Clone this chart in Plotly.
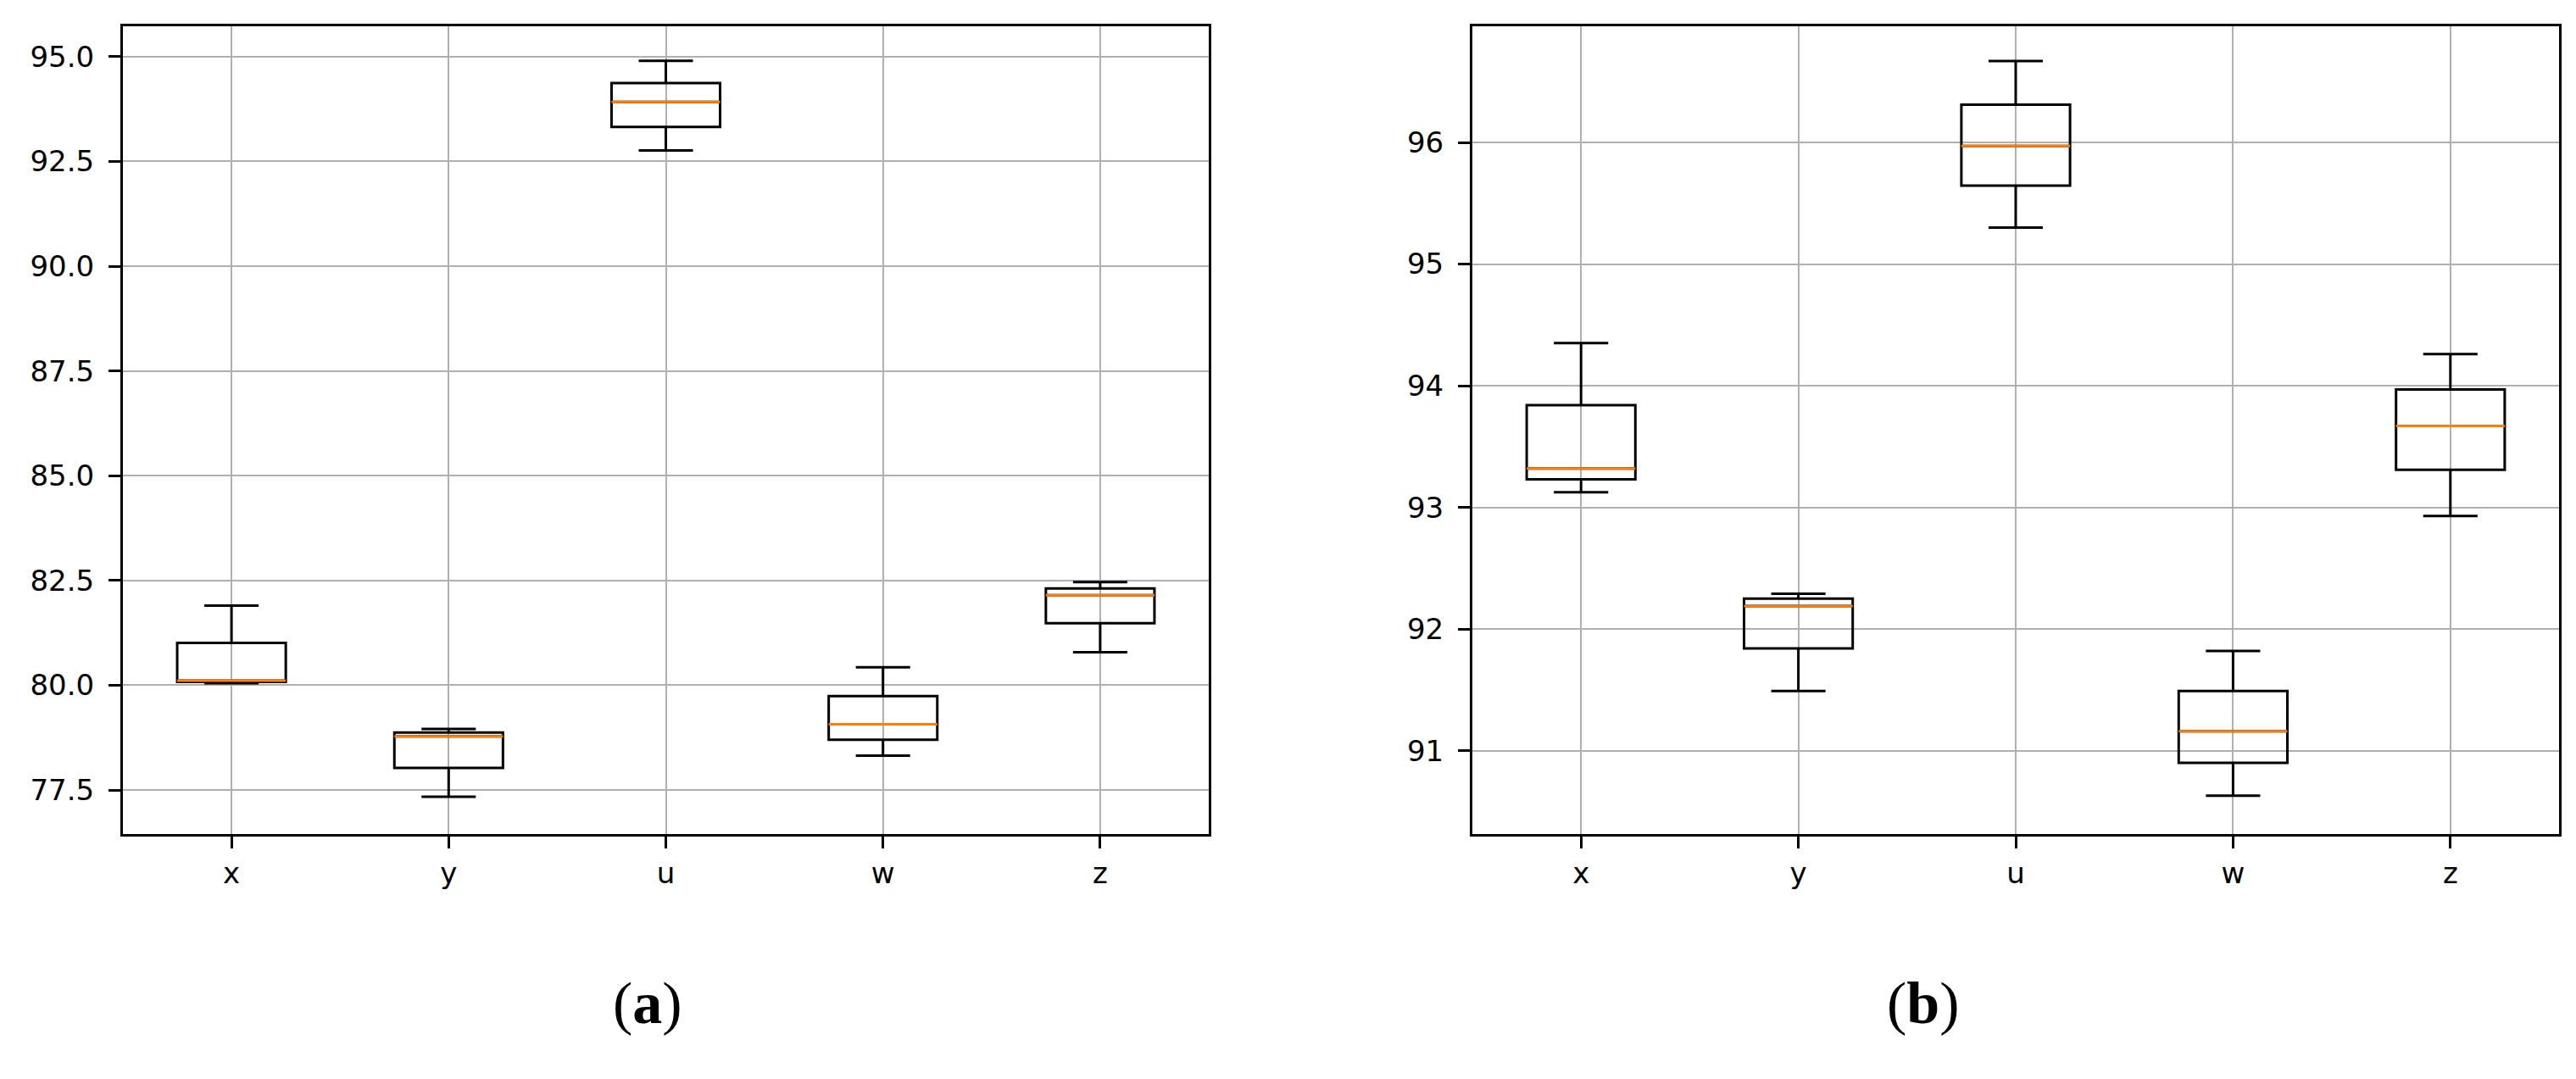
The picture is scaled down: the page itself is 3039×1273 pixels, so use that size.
import plotly.graph_objects as go

W, H = 3039, 1273

categories = ["x", "y", "u", "w", "z"]
positions = [1, 2, 3, 4, 5]

# panel (a): box-plot summary values
lo_a = [80.05, 77.34, 92.76, 78.32, 80.79]
q1_a = [80.08, 78.03, 93.32, 78.70, 81.48]
med_a = [80.11, 78.78, 93.92, 79.07, 82.15]
q3_a = [81.01, 78.87, 94.37, 79.74, 82.31]
hi_a = [81.90, 78.96, 94.90, 80.43, 82.46]

# panel (b)
lo_b = [93.125, 91.49, 95.30, 90.63, 92.93]
q1_b = [93.23, 91.84, 95.645, 90.90, 93.31]
med_b = [93.32, 92.19, 95.97, 91.16, 93.67]
q3_b = [93.84, 92.25, 96.31, 91.49, 93.97]
hi_b = [94.35, 92.29, 96.67, 91.82, 94.26]

yticks_a = [77.5, 80.0, 82.5, 85.0, 87.5, 90.0, 92.5, 95.0]
yticks_b = [91, 92, 93, 94, 95, 96]

BLACK = "#000000"
ORANGE = "#ff7f0e"
GRID = "#b0b0b0"


def add_boxes(fig, lo, q1, med, q3, hi, xa, ya):
    # black box + whiskers, no fill so the grid shows through
    fig.add_trace(go.Box(
        x=positions, q1=q1, median=med, q3=q3, lowerfence=lo, upperfence=hi,
        width=0.5, whiskerwidth=0.5, line=dict(color=BLACK, width=3),
        fillcolor="rgba(0,0,0,0)", boxpoints=False, hoverinfo="skip",
        xaxis=xa, yaxis=ya, showlegend=False,
    ))
    # orange median drawn as a flat box on top
    fig.add_trace(go.Box(
        x=positions, q1=med, median=med, q3=med, lowerfence=med, upperfence=med,
        width=0.5, whiskerwidth=0.5, line=dict(color=ORANGE, width=3),
        fillcolor="rgba(0,0,0,0)", boxpoints=False, hoverinfo="skip",
        xaxis=xa, yaxis=ya, showlegend=False,
    ))


fig = go.Figure()
add_boxes(fig, lo_a, q1_a, med_a, q3_a, hi_a, "x", "y")
add_boxes(fig, lo_b, q1_b, med_b, q3_b, hi_b, "x2", "y2")

ydom = [(H - 976) / H, (H - 22.7) / H]
axis_style = dict(
    showline=True, mirror=True, linecolor=BLACK, linewidth=3,
    ticks="outside", ticklen=14, tickwidth=3, tickcolor=BLACK,
    showgrid=True, gridcolor=GRID, gridwidth=2, zeroline=False,
    automargin=False, tickfont=dict(family="DejaVu Sans", size=34, color=BLACK),
)

fig.update_layout(
    width=W, height=H,
    margin=dict(l=0, r=0, t=0, b=0),
    paper_bgcolor="white", plot_bgcolor="white",
    boxmode="overlay",
    xaxis=dict(domain=[137 / W, 1418 / W], range=[0.5, 5.5],
               tickvals=positions, ticktext=categories, anchor="y", **axis_style),
    yaxis=dict(domain=ydom, range=[76.45, 95.73], tickvals=yticks_a,
               tickformat=".1f", anchor="x", ticklabelstandoff=10, **axis_style),
    xaxis2=dict(domain=[1729 / W, 3011 / W], range=[0.5, 5.5],
                tickvals=positions, ticktext=categories, anchor="y2", **axis_style),
    yaxis2=dict(domain=ydom, range=[90.315, 96.957], tickvals=yticks_b,
                anchor="x2", ticklabelstandoff=10, **axis_style),
    annotations=[
        dict(text="(<b>a</b>)", x=713 / W, y=(H - 1216) / H, xref="paper", yref="paper",
             showarrow=False, font=dict(family="Liberation Serif", size=70, color=BLACK)),
        dict(text="(<b>b</b>)", x=2306 / W, y=(H - 1216) / H, xref="paper", yref="paper",
             showarrow=False, font=dict(family="Liberation Serif", size=70, color=BLACK)),
    ],
)

fig.write_html("out.html")
